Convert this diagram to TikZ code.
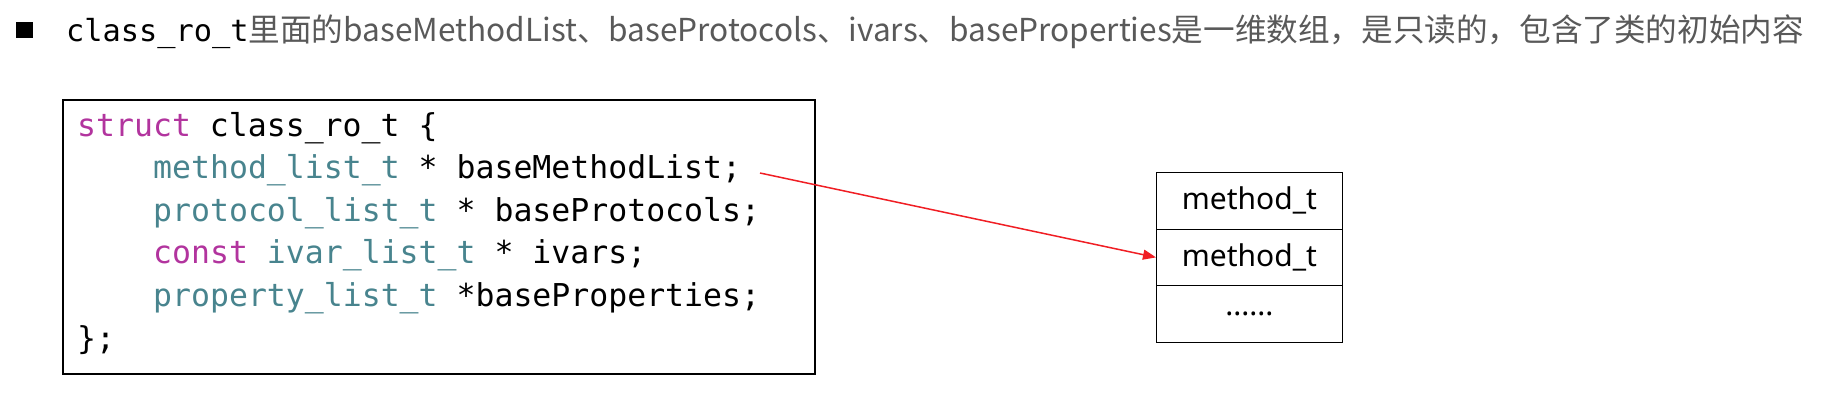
\documentclass[tikz,border=0pt]{standalone}
\usepackage{fontspec}
\setmonofont{DejaVu Sans Mono}
\newfontfamily\cjkfont{Noto Sans CJK SC}
\newfontfamily\boxfont{Noto Sans}
\usetikzlibrary{arrows.meta}
\definecolor{kwmag}{RGB}{178,52,158}
\definecolor{tyteal}{RGB}{72,132,142}
\definecolor{hdrgray}{RGB}{89,89,89}
\definecolor{arrred}{RGB}{240,30,36}
\tikzset{
  codeline/.style={anchor=base west, inner sep=0pt, font=\ttfamily\fontsize{31.5}{36}\selectfont},
  cellbox/.style={draw=black, line width=1.3pt, minimum width=185.5pt, minimum height=56.5pt, inner sep=0pt, font=\boxfont\fontsize{30}{36}\selectfont},
  ptrarrow/.style={draw=arrred, line width=1.5pt, -{Triangle[length=13pt,width=10pt]}}
}
\begin{document}
\begin{tikzpicture}[x=1pt,y=-1pt]
\useasboundingbox (0,0) rectangle (1824,402);
% header
\node (bullet) [fill=black, minimum width=17pt, minimum height=16pt, inner sep=0pt] at (24,29.5) {};
\node (header) [anchor=base west, inner sep=0pt] at (66,41)
  {{\ttfamily\fontsize{30.3}{36}\selectfont class\_ro\_t}{\color{hdrgray}\cjkfont\fontsize{31.6}{36}\selectfont 里面的baseMethodList、baseProtocols、ivars、baseProperties是一维数组，是只读的，包含了类的初始内容}};
% code box
\node (codebox) [draw=black, line width=2.2pt, minimum width=752pt, minimum height=274pt, inner sep=0pt, anchor=north west] at (62,99) {};
\node (l1) [codeline] at (77,136) {{\color{kwmag}struct} class\_ro\_t \{};
\node (l2) [codeline] at (153,178.6) {{\color{tyteal}method\_list\_t} * baseMethodList;};
\node (l3) [codeline] at (153,221.2) {{\color{tyteal}protocol\_list\_t} * baseProtocols;};
\node (l4) [codeline] at (153,263.8) {{\color{kwmag}const} {\color{tyteal}ivar\_list\_t} * ivars;};
\node (l5) [codeline] at (153,306.4) {{\color{tyteal}property\_list\_t} *baseProperties;};
\node (l6) [codeline] at (77,349) {\};};
% array boxes
\node (m1) [cellbox] at (1249.4,200.9) {method\_t};
\node (m2) [cellbox] at (1249.4,257.4) {method\_t};
\node (m3) [cellbox] at (1249.4,313.9) {......};
% arrow
\coordinate (mlstart) at (760,173);
\draw[ptrarrow] (mlstart) -- (m2.west);
\end{tikzpicture}
\end{document}
